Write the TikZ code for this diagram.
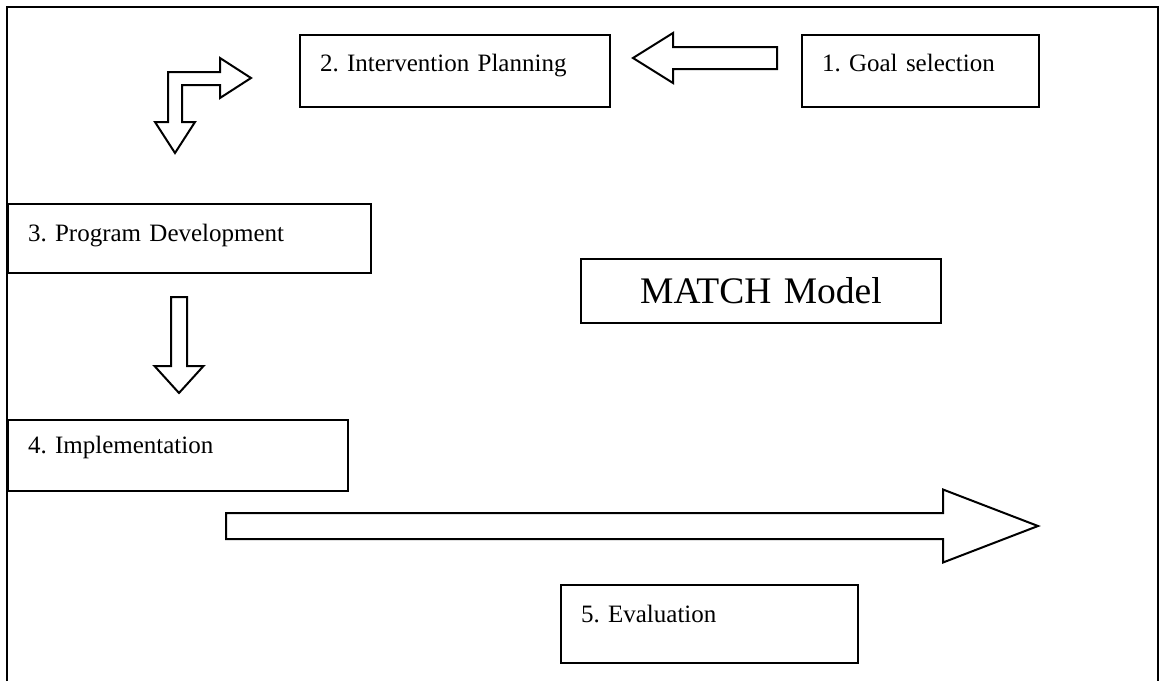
\documentclass[tikz,border=0pt]{standalone}
\usepackage{fontspec}
\setmainfont{Liberation Serif}
\frenchspacing
\usetikzlibrary{calc}
\tikzset{
	stage/.style={draw, line width=2pt, anchor=north west, inner ysep=0pt, inner xsep=20pt, align=left, font=\fontsize{25}{30}\selectfont},
	blockarrow/.style={draw, line width=2pt, line join=miter},
}
\newcommand{\drawstage}[7][]{
	\pgfmathsetmacro{\tw}{#5-40}
	\pgfmathsetmacro{\td}{#6-#7}
	\node[stage, text width=\tw pt, text height=#7pt, text depth=\td pt, #1] (#2) at (#3,#4) {\stagetext};
}
\newcommand{\drawblockarrow}[6]{
	\begin{scope}[shift={#1}, rotate=#2]
		\draw[blockarrow] (0,-#4) -- (#3-#6,-#4) -- (#3-#6,-#5) -- (#3,0) -- (#3-#6,#5) -- (#3-#6,#4) -- (0,#4) -- cycle;
	\end{scope}
}

\begin{document}
\begin{tikzpicture}[x=1pt,y=-1pt]
	\useasboundingbox (0,0) rectangle (1163,681);
	% frame, open at the bottom
	\draw[line width=2.8pt] (7,681) -- (7,7) -- (1158,7) -- (1158,681);
	\def\stagetext{1. Goal selection}
	\drawstage{goal}{801}{34}{237}{72}{36}
	\def\stagetext{2. Intervention Planning}
	\drawstage{plan}{299}{34}{310}{72}{36}
	\def\stagetext{3. Program Development}
	\drawstage{prog}{7}{203}{363}{69}{37}
	\def\stagetext{4. Implementation}
	\drawstage{impl}{7}{419}{340}{71}{33}
	\def\stagetext{5. Evaluation}
	\drawstage{eval}{560}{584}{297}{78}{37}
	\def\stagetext{MATCH Model}
	\drawstage[align=center, font=\fontsize{37.5}{42}\selectfont]{match}{580}{258}{360}{64}{44}
	% block arrows
	\drawblockarrow{(777,58)}{180}{144}{11}{25}{40}
	\draw[blockarrow] (168,122) -- (168,72) -- (220,72) -- (220,58) -- (251,78) -- (220,98) -- (220,85) -- (182,85) -- (182,122) -- (195,122) -- (175,153) -- (155,122) -- cycle;
	\drawblockarrow{(179,297)}{-90}{96}{8}{24.5}{27}
	\drawblockarrow{(226,526)}{0}{812}{13}{36.5}{95}
\end{tikzpicture}
\end{document}
